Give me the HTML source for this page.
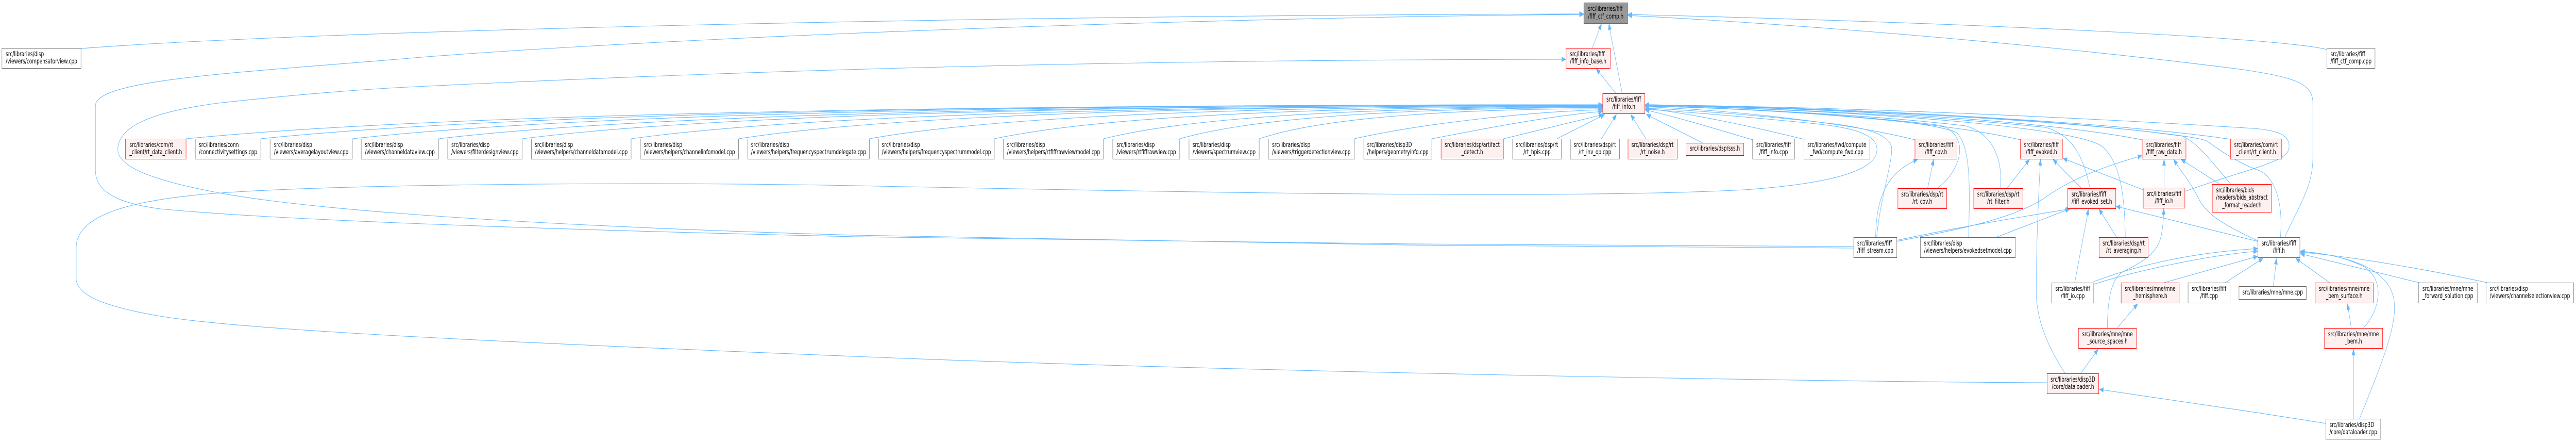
<!DOCTYPE html>
<html><head><meta charset="utf-8"><style>
html,body{margin:0;padding:0;background:#fff;overflow:hidden;width:100%;height:100%}
#root{position:fixed;left:0;top:0;width:100vw;height:100vh;display:block}
#w{position:relative;width:7235px;height:857px}
.n{position:absolute;box-sizing:border-box;border:1px solid #666;background:#fff;display:flex;align-items:center;justify-content:center;font:13px/14.5px "DejaVu Sans","Liberation Sans",sans-serif;color:#000;white-space:nowrap}
.r{border-color:#f00;background:#fff0f0}
.m{background:#999;border-color:#666}
.t{display:inline-block}
.t div{text-align:left}
.t .c{text-align:center}
</style></head><body>
<svg id="root" viewBox="0 0 7235 857" preserveAspectRatio="none">
<defs><marker id="a" markerWidth="13" markerHeight="10" refX="12" refY="5" orient="auto" markerUnits="userSpaceOnUse"><path d="M0,0 L13,5 L0,10 z" fill="#63b8ff"/></marker></defs>
<rect x="0" y="0" width="7235" height="857" fill="#fff"/>
<g fill="none" stroke="#63b8ff" stroke-width="1.1" marker-end="url(#a)">
<path d="M228,94 C900,58 2800,30 4448,27"/>
<path d="M5206,478 C4400,477 3000,468 2400,459 C1600,446 800,428 450,405 C330,394 268,372 268,330 L268,205 C268,152 700,140 1200,110 C2000,68 3400,34 4448,28"/>
<path d="M5206,481 C4400,480 3000,470 2400,456 C1600,440 900,412 600,372 C420,348 331,322 331,290 C331,240 450,215 612,200 C900,178 1100,170 1200,167 C2000,140 3000,116 4398,115"/>
<path d="M5749,742 C5200,741 3500,722 2400,691 C1500,666 700,642 450,613 C280,593 214,570 214,540 L214,480 C214,420 350,386 643,373 C1000,357 1800,352 2400,360 C3400,374 4400,386 4900,368 C5150,356 5262,330 5271,295 C5280,262 5210,248 5100,240 C4900,226 4700,215 4620,212"/>
<path d="M523,269 C1319,215 2989,203 4501,203"/>
<path d="M733,269 C1487,215 3069,203 4501,203"/>
<path d="M990,269 C1692,215 3167,203 4501,203"/>
<path d="M1232,269 C1886,216 3259,204 4501,204"/>
<path d="M1467,269 C2074,216 3348,204 4501,204"/>
<path d="M1773,269 C2319,217 3464,205 4501,205"/>
<path d="M2075,269 C2560,217 3579,205 4501,205"/>
<path d="M2442,269 C2854,218 3719,206 4501,206"/>
<path d="M2793,269 C3135,219 3852,207 4501,207"/>
<path d="M3100,269 C3380,220 3969,208 4501,208"/>
<path d="M3314,269 C3551,222 4050,209 4501,209"/>
<path d="M3537,269 C3730,224 4135,211 4501,211"/>
<path d="M3804,269 C3990,240 4300,216 4501,213"/>
<path d="M4022,269 C4180,248 4350,225 4501,216"/>
<path d="M4223,269 L4503,222"/>
<path d="M4373,269 L4507,222"/>
<path d="M4498,269 L4540,222"/>
<path d="M4623,269 L4580,222"/>
<path d="M4782,277 L4624,222"/>
<path d="M4922,271 C4820,250 4700,225 4620,213"/>
<path d="M5066,270 C4920,245 4750,220 4620,210"/>
<path d="M5378,271 C5200,240 4900,215 4620,207"/>
<path d="M5674,271 C5450,235 5000,212 4620,205"/>
<path d="M6016,271 C5750,235 5200,210 4620,204"/>
<path d="M6264,270 C6000,242 5300,210 4620,203"/>
<path d="M5441,365 C5510,330 5535,262 5450,243 C5200,222 4850,209 4620,206"/>
<path d="M5619,365 C5625,300 5590,257 5520,244 C5250,222 4850,209 4620,206"/>
<path d="M5529,460 C5533,360 5535,283 5495,257 C5400,228 4900,210 4620,205"/>
<path d="M5271,460 C5280,385 5320,305 5312,283 C5300,258 5230,247 5150,240 C4950,224 4750,213 4620,210"/>
<path d="M5870,365 C5850,300 5820,262 5745,247 C5400,222 4900,208 4620,204"/>
<path d="M5969,460 C5968,380 5955,310 5900,282 C5820,248 5300,216 4620,204"/>
<path d="M6265,357 C6220,320 6175,278 6130,264 C5800,232 5200,209 4620,203"/>
<path d="M6405,460 C6412,400 6395,350 6350,332 C6290,318 6235,292 6200,274 C6150,256 5500,215 4620,203"/>
<path d="M6137,371 C6300,330 6420,315 6428,290 C6436,262 6400,253 6330,249 C5800,226 5200,208 4620,203"/>
<path d="M6535,96 C6400,72 5500,44 4572,28"/>
<path d="M6417,460 C6460,395 6496,360 6496,306 L6496,200 C6496,160 6440,150 6300,135 C5700,82 5000,45 4572,30"/>
<path d="M4472,93 L4498,46"/>
<path d="M4556,181 C4540,120 4526,80 4519,46"/>
<path d="M4538,181 L4483,133"/>
<path d="M5414,365 L5431,309"/>
<path d="M5268,460 C5270,380 5300,335 5386,309"/>
<path d="M5637,365 L5700,309"/>
<path d="M5846,365 L5766,309"/>
<path d="M6019,368 L5794,307"/>
<path d="M5800,724 C5740,660 5719,610 5719,565 C5719,480 5725,380 5731,309"/>
<path d="M5328,468 C5500,445 5650,425 5740,385 C5800,355 5880,328 6016,302"/>
<path d="M5328,466 C5500,440 5700,418 5815,405"/>
<path d="M5607,460 L5813,405"/>
<path d="M5827,548 L5866,405"/>
<path d="M5945,460 L5895,405"/>
<path d="M6341,468 L5943,400"/>
<path d="M6078,364 L6078,309"/>
<path d="M6341,467 C6260,440 6200,420 6175,385 C6150,350 6130,338 6105,309"/>
<path d="M6234,357 L6126,309"/>
<path d="M5919,636 C5919,580 5930,540 5962,527 C6020,508 6060,490 6070,457 C6075,440 6077,420 6077,404"/>
<path d="M5881,551 C6000,525 6200,495 6341,487"/>
<path d="M5881,546 C6000,515 6150,490 6341,482"/>
<path d="M6078,548 L6341,497"/>
<path d="M6250,548 L6356,501"/>
<path d="M6385,555 L6394,501"/>
<path d="M6543,548 L6448,501"/>
<path d="M6638,636 C6685,600 6700,545 6640,517 C6580,497 6520,490 6461,488"/>
<path d="M6627,812 C6680,720 6730,640 6725,590 C6720,522 6600,496 6461,487"/>
<path d="M6800,549 L6461,492"/>
<path d="M6985,548 C6800,520 6600,497 6461,489"/>
<path d="M6604,636 L6593,589"/>
<path d="M6610,812 L6610,677"/>
<path d="M6532,821 C6300,795 6000,765 5896,755"/>
<path d="M5946,636 L6004,589"/>
<path d="M5844,724 L5893,677"/>
</g>
<foreignObject x="0" y="0" width="7235" height="857">
<div xmlns="http://www.w3.org/1999/xhtml" id="w">
<div class="n m" style="left:4448px;top:5px;width:124px;height:41px"><div class="t"><div>src/libraries/fiff</div><div class="c">/fiff_ctf_comp.h</div></div></div>
<div class="n" style="left:5px;top:93px;width:223px;height:40px"><div class="t"><div>src/libraries/disp</div><div class="c">/viewers/compensatorview.cpp</div></div></div>
<div class="n r" style="left:4398px;top:93px;width:125px;height:40px"><div class="t"><div>src/libraries/fiff</div><div class="c">/fiff_info_base.h</div></div></div>
<div class="n" style="left:6535px;top:93px;width:136px;height:40px"><div class="t"><div>src/libraries/fiff</div><div class="c">/fiff_ctf_comp.cpp</div></div></div>
<div class="n r" style="left:4501px;top:181px;width:119px;height:40px"><div class="t"><div>src/libraries/fiff</div><div class="c">/fiff_info.h</div></div></div>

<div class="n r" style="left:352px;top:269px;width:171px;height:40px"><div class="t"><div>src/libraries/com/rt</div><div class="c">_client/rt_data_client.h</div></div></div>
<div class="n" style="left:548px;top:269px;width:185px;height:40px"><div class="t"><div>src/libraries/conn</div><div class="c">/connectivitysettings.cpp</div></div></div>
<div class="n" style="left:758px;top:269px;width:232px;height:40px"><div class="t"><div>src/libraries/disp</div><div class="c">/viewers/averagelayoutview.cpp</div></div></div>
<div class="n" style="left:1014px;top:269px;width:218px;height:40px"><div class="t"><div>src/libraries/disp</div><div class="c">/viewers/channeldataview.cpp</div></div></div>
<div class="n" style="left:1257px;top:269px;width:210px;height:40px"><div class="t"><div>src/libraries/disp</div><div class="c">/viewers/filterdesignview.cpp</div></div></div>
<div class="n" style="left:1492px;top:269px;width:281px;height:40px"><div class="t"><div>src/libraries/disp</div><div class="c">/viewers/helpers/channeldatamodel.cpp</div></div></div>
<div class="n" style="left:1798px;top:269px;width:277px;height:40px"><div class="t"><div>src/libraries/disp</div><div class="c">/viewers/helpers/channelinfomodel.cpp</div></div></div>
<div class="n" style="left:2100px;top:269px;width:342px;height:40px"><div class="t"><div>src/libraries/disp</div><div class="c">/viewers/helpers/frequencyspectrumdelegate.cpp</div></div></div>
<div class="n" style="left:2467px;top:269px;width:326px;height:40px"><div class="t"><div>src/libraries/disp</div><div class="c">/viewers/helpers/frequencyspectrummodel.cpp</div></div></div>
<div class="n" style="left:2818px;top:269px;width:282px;height:40px"><div class="t"><div>src/libraries/disp</div><div class="c">/viewers/helpers/rtfiffrawviewmodel.cpp</div></div></div>
<div class="n" style="left:3125px;top:269px;width:189px;height:40px"><div class="t"><div>src/libraries/disp</div><div class="c">/viewers/rtfiffrawview.cpp</div></div></div>
<div class="n" style="left:3339px;top:269px;width:198px;height:40px"><div class="t"><div>src/libraries/disp</div><div class="c">/viewers/spectrumview.cpp</div></div></div>
<div class="n" style="left:3562px;top:269px;width:242px;height:40px"><div class="t"><div>src/libraries/disp</div><div class="c">/viewers/triggerdetectionview.cpp</div></div></div>
<div class="n" style="left:3830px;top:269px;width:192px;height:40px"><div class="t"><div>src/libraries/disp3D</div><div class="c">/helpers/geometryinfo.cpp</div></div></div>
<div class="n r" style="left:4047px;top:269px;width:176px;height:40px"><div class="t"><div>src/libraries/dsp/artifact</div><div class="c">_detect.h</div></div></div>
<div class="n" style="left:4248px;top:269px;width:138px;height:40px"><div class="t"><div>src/libraries/dsp/rt</div><div class="c">/rt_hpis.cpp</div></div></div>
<div class="n" style="left:4410px;top:269px;width:139px;height:40px"><div class="t"><div>src/libraries/dsp/rt</div><div class="c">/rt_inv_op.cpp</div></div></div>
<div class="n r" style="left:4572px;top:269px;width:139px;height:40px"><div class="t"><div>src/libraries/dsp/rt</div><div class="c">/rt_noise.h</div></div></div>
<div class="n r" style="left:4735px;top:277px;width:163px;height:25px">src/libraries/dsp/sss.h</div>
<div class="n" style="left:4922px;top:269px;width:119px;height:40px"><div class="t"><div>src/libraries/fiff</div><div class="c">/fiff_info.cpp</div></div></div>
<div class="n" style="left:5066px;top:269px;width:186px;height:40px"><div class="t"><div>src/libraries/fwd/compute</div><div class="c">_fwd/compute_fwd.cpp</div></div></div>
<div class="n r" style="left:5378px;top:269px;width:119px;height:40px"><div class="t"><div>src/libraries/fiff</div><div class="c">/fiff_cov.h</div></div></div>
<div class="n r" style="left:5674px;top:269px;width:119px;height:40px"><div class="t"><div>src/libraries/fiff</div><div class="c">/fiff_evoked.h</div></div></div>
<div class="n r" style="left:6016px;top:269px;width:124px;height:40px"><div class="t"><div>src/libraries/fiff</div><div class="c">/fiff_raw_data.h</div></div></div>
<div class="n r" style="left:6264px;top:269px;width:145px;height:40px"><div class="t"><div>src/libraries/com/rt</div><div class="c">_client/rt_client.h</div></div></div>

<div class="n r" style="left:5330px;top:365px;width:138px;height:40px"><div class="t"><div>src/libraries/dsp/rt</div><div class="c">/rt_cov.h</div></div></div>
<div class="n r" style="left:5543px;top:365px;width:139px;height:40px"><div class="t"><div>src/libraries/dsp/rt</div><div class="c">/rt_filter.h</div></div></div>
<div class="n r" style="left:5807px;top:365px;width:136px;height:40px"><div class="t"><div>src/libraries/fiff</div><div class="c">/fiff_evoked_set.h</div></div></div>
<div class="n r" style="left:6019px;top:364px;width:118px;height:40px"><div class="t"><div>src/libraries/fiff</div><div class="c">/fiff_io.h</div></div></div>
<div class="n r" style="left:6213px;top:357px;width:167px;height:55px"><div class="t"><div>src/libraries/bids</div><div>/readers/bids_abstract</div><div class="c">_format_reader.h</div></div></div>

<div class="n" style="left:5206px;top:460px;width:122px;height:40px"><div class="t"><div>src/libraries/fiff</div><div class="c">/fiff_stream.cpp</div></div></div>
<div class="n" style="left:5393px;top:460px;width:268px;height:40px"><div class="t"><div>src/libraries/disp</div><div class="c">/viewers/helpers/evokedsetmodel.cpp</div></div></div>
<div class="n r" style="left:5895px;top:460px;width:139px;height:40px"><div class="t"><div>src/libraries/dsp/rt</div><div class="c">/rt_averaging.h</div></div></div>
<div class="n" style="left:6341px;top:460px;width:119px;height:40px"><div class="t"><div>src/libraries/fiff</div><div class="c">/fiff.h</div></div></div>

<div class="n" style="left:5762px;top:548px;width:119px;height:40px"><div class="t"><div>src/libraries/fiff</div><div class="c">/fiff_io.cpp</div></div></div>
<div class="n r" style="left:5957px;top:548px;width:164px;height:40px"><div class="t"><div>src/libraries/mne/mne</div><div class="c">_hemisphere.h</div></div></div>
<div class="n" style="left:6145px;top:548px;width:119px;height:40px"><div class="t"><div>src/libraries/fiff</div><div class="c">/fiff.cpp</div></div></div>
<div class="n" style="left:6288px;top:555px;width:190px;height:26px">src/libraries/mne/mne.cpp</div>
<div class="n r" style="left:6502px;top:548px;width:164px;height:40px"><div class="t"><div>src/libraries/mne/mne</div><div class="c">_bem_surface.h</div></div></div>
<div class="n" style="left:6792px;top:548px;width:166px;height:40px"><div class="t"><div>src/libraries/mne/mne</div><div class="c">_forward_solution.cpp</div></div></div>
<div class="n" style="left:6982px;top:548px;width:247px;height:40px"><div class="t"><div>src/libraries/disp</div><div class="c">/viewers/channelselectionview.cpp</div></div></div>

<div class="n r" style="left:5837px;top:636px;width:164px;height:40px"><div class="t"><div>src/libraries/mne/mne</div><div class="c">_source_spaces.h</div></div></div>
<div class="n r" style="left:6528px;top:636px;width:164px;height:40px"><div class="t"><div>src/libraries/mne/mne</div><div class="c">_bem.h</div></div></div>

<div class="n r" style="left:5749px;top:724px;width:146px;height:40px"><div class="t"><div>src/libraries/disp3D</div><div class="c">/core/dataloader.h</div></div></div>
<div class="n" style="left:6532px;top:812px;width:155px;height:40px"><div class="t"><div>src/libraries/disp3D</div><div class="c">/core/dataloader.cpp</div></div></div>
</div>
</foreignObject>
</svg>
</body></html>
